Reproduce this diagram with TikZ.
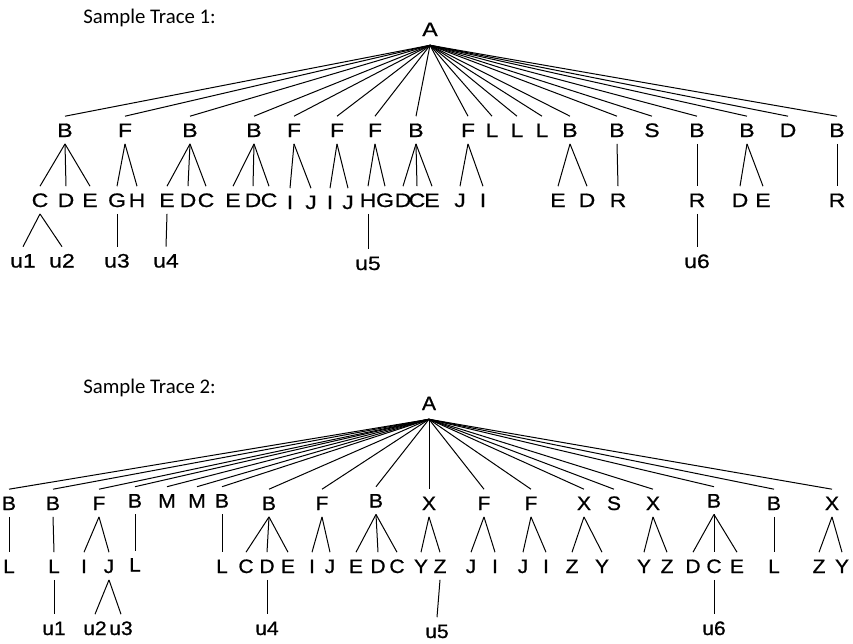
\documentclass[tikz,border=0pt]{standalone}
\usepackage{fontspec}
\setmainfont{Liberation Sans}
\newfontfamily\capfont{Carlito}
\newfontfamily\trAfont[FakeStretch=1.18, FakeBold=0.8]{Liberation Sans}
\newfontfamily\trBfont[FakeStretch=1.08, FakeBold=0.8]{Liberation Sans}

\tikzset{
  lbl/.style={inner xsep=0pt, inner ysep=5pt, text height=10.4pt, text depth=0pt, anchor=base},
  ta/.style={lbl, font=\trAfont\fontsize{14.6}{16}\selectfont},
  tb/.style={lbl, font=\trBfont\fontsize{14.6}{16}\selectfont},
  rootnode/.style={inner ysep=6.75pt},
  caption/.style={font=\capfont\fontsize{15.6}{18}\selectfont, anchor=base west, inner sep=0pt},
  edge/.style={draw=black, line width=0.75pt}
}

\begin{document}
\begin{tikzpicture}[x=0.75pt, y=-0.75pt]
\useasboundingbox (0,0) rectangle (853,643);

% ---------------- Trace 1 ----------------
\node[caption] (cap1) at (83,23) {Sample Trace 1:};
\node[ta, rootnode] (A1) at (430,36) {A};

% first level
\node[ta] (b1)  at (65,137)  {B};
\node[ta] (b2)  at (125,137) {F};
\node[ta] (b3)  at (190,137) {B};
\node[ta] (b4)  at (254,137) {B};
\node[ta] (b5)  at (294,137) {F};
\node[ta] (b6)  at (337,137) {F};
\node[ta] (b7)  at (375,137) {F};
\node[ta] (b8)  at (416,137) {B};
\node[ta] (b9)  at (468,137) {F};
\node[ta] (b10) at (492,137) {L};
\node[ta] (b11) at (517,137) {L};
\node[ta] (b12) at (542,137) {L};
\node[ta] (b13) at (570,137) {B};
\node[ta] (b14) at (617,137) {B};
\node[ta] (b15) at (652,137) {S};
\node[ta] (b16) at (697,137) {B};
\node[ta] (b17) at (747,137) {B};
\node[ta] (b18) at (788,137) {D};
\node[ta] (b19) at (837,137) {B};

% second level
\node[ta] (c1)  at (40,207)  {C};
\node[ta] (c2)  at (66,207)  {D};
\node[ta] (c3)  at (90,207)  {E};
\node[ta] (c4)  at (117,207) {G};
\node[ta] (c5)  at (137,207) {H};
\node[ta] (c6)  at (167,207) {E};
\node[ta] (c7)  at (188,207) {D};
\node[ta] (c8)  at (206,207) {C};
\node[ta] (c9)  at (233,207) {E};
\node[ta] (c10) at (253,207) {D};
\node[ta] (c11) at (269,207) {C};
\node[ta] (c12) at (290,209) {I};
\node[ta] (c13) at (311,209) {J};
\node[ta] (c14) at (330,209) {I};
\node[ta] (c15) at (348,209) {J};
\node[ta] (c16) at (368,207) {H};
\node[ta] (c17) at (385,207) {G};
\node[ta] (c18) at (403,207) {D};
\node[ta] (c19) at (417,207) {C};
\node[ta] (c20) at (432,207) {E};
\node[ta] (c21) at (460,207) {J};
\node[ta] (c22) at (483,207) {I};
\node[ta] (c23) at (558,207) {E};
\node[ta] (c24) at (587,207) {D};
\node[ta] (c25) at (618,207) {R};
\node[ta] (c26) at (697,207) {R};
\node[ta] (c27) at (740,207) {D};
\node[ta] (c28) at (763,207) {E};
\node[ta] (c29) at (837,207) {R};

% third level
\node[ta] (d1) at (23,267.5)  {u1};
\node[ta] (d2) at (62,267.5)  {u2};
\node[ta] (d3) at (117,267.5) {u3};
\node[ta] (d4) at (166,267.5) {u4};
\node[ta] (d5) at (368,270)   {u5};
\node[ta] (d6) at (697,268)   {u6};

\foreach \i in {1,...,19} \draw[edge] (A1.south) -- (b\i.north);
\foreach \p/\c in {b1/c1,b1/c2,b1/c3, b2/c4,b2/c5, b3/c6,b3/c7,b3/c8,
                   b4/c9,b4/c10,b4/c11, b5/c12,b5/c13, b6/c14,b6/c15,
                   b7/c16,b7/c17, b8/c18,b8/c19,b8/c20, b9/c21,b9/c22,
                   b13/c23,b13/c24, b14/c25, b16/c26, b17/c27,b17/c28, b19/c29,
                   c1/d1,c1/d2, c4/d3, c6/d4, c16/d5, c26/d6}
  \draw[edge] (\p.south) -- (\c.north);

% ---------------- Trace 2 ----------------
\node[caption] (cap2) at (83,393) {Sample Trace 2:};
\node[tb, rootnode] (A2) at (429,410) {A};

% first level
\node[tb] (e1)  at (9,510)     {B};
\node[tb] (e2)  at (53,510)    {B};
\node[tb] (e3)  at (99,510)    {F};
\node[tb] (e4)  at (135,507.5) {B};
\node[tb] (e5)  at (167,507.5) {M};
\node[tb] (e6)  at (197,507.5) {M};
\node[tb] (e7)  at (222,507.5) {B};
\node[tb] (e8)  at (269,510)   {B};
\node[tb] (e9)  at (322,510)   {F};
\node[tb] (e10) at (376,507.5) {B};
\node[tb] (e11) at (429,510)   {X};
\node[tb] (e12) at (484,510)   {F};
\node[tb] (e13) at (531,510)   {F};
\node[tb] (e14) at (584,510)   {X};
\node[tb] (e15) at (614,510)   {S};
\node[tb] (e16) at (653,510)   {X};
\node[tb] (e17) at (714,507.5) {B};
\node[tb] (e18) at (774,510)   {B};
\node[tb] (e19) at (832,510)   {X};

% second level
\node[tb] (f1)  at (9,573)     {L};
\node[tb] (f2)  at (54,573)    {L};
\node[tb] (f3)  at (84,573)    {I};
\node[tb] (f4)  at (109,573)   {J};
\node[tb] (f5)  at (135,571.5) {L};
\node[tb] (f6)  at (222,573)   {L};
\node[tb] (f7)  at (246,573)   {C};
\node[tb] (f8)  at (267,573)   {D};
\node[tb] (f9)  at (288,573)   {E};
\node[tb] (f10) at (312,573)   {I};
\node[tb] (f11) at (330,573)   {J};
\node[tb] (f12) at (356,573)   {E};
\node[tb] (f13) at (378,573)   {D};
\node[tb] (f14) at (397,573)   {C};
\node[tb] (f15) at (421,573)   {Y};
\node[tb] (f16) at (440,573)   {Z};
\node[tb] (f17) at (471,573)   {J};
\node[tb] (f18) at (495,573)   {I};
\node[tb] (f19) at (523,573)   {J};
\node[tb] (f20) at (546,573)   {I};
\node[tb] (f21) at (572,573)   {Z};
\node[tb] (f22) at (602,573)   {Y};
\node[tb] (f23) at (644,573)   {Y};
\node[tb] (f24) at (667,573)   {Z};
\node[tb] (f25) at (693,573)   {D};
\node[tb] (f26) at (714,573)   {C};
\node[tb] (f27) at (737,573)   {E};
\node[tb] (f28) at (774,573)   {L};
\node[tb] (f29) at (819,573)   {Z};
\node[tb] (f30) at (842,573)   {Y};

% third level
\node[tb] (g1) at (54,635)  {u1};
\node[tb] (g2) at (95,635)  {u2};
\node[tb] (g3) at (121,635) {u3};
\node[tb] (g4) at (267,635) {u4};
\node[tb] (g5) at (437,638) {u5};
\node[tb] (g6) at (714,635) {u6};

\foreach \i in {1,...,19} \draw[edge] (A2.south) -- (e\i.north);
\foreach \p/\c in {e1/f1, e2/f2, e3/f3,e3/f4, e4/f5, e7/f6,
                   e8/f7,e8/f8,e8/f9, e9/f10,e9/f11, e10/f12,e10/f13,e10/f14,
                   e11/f15,e11/f16, e12/f17,e12/f18, e13/f19,e13/f20,
                   e14/f21,e14/f22, e16/f23,e16/f24, e17/f25,e17/f26,e17/f27,
                   e18/f28, e19/f29,e19/f30,
                   f2/g1, f4/g2,f4/g3, f8/g4, f16/g5, f26/g6}
  \draw[edge] (\p.south) -- (\c.north);
\end{tikzpicture}
\end{document}
